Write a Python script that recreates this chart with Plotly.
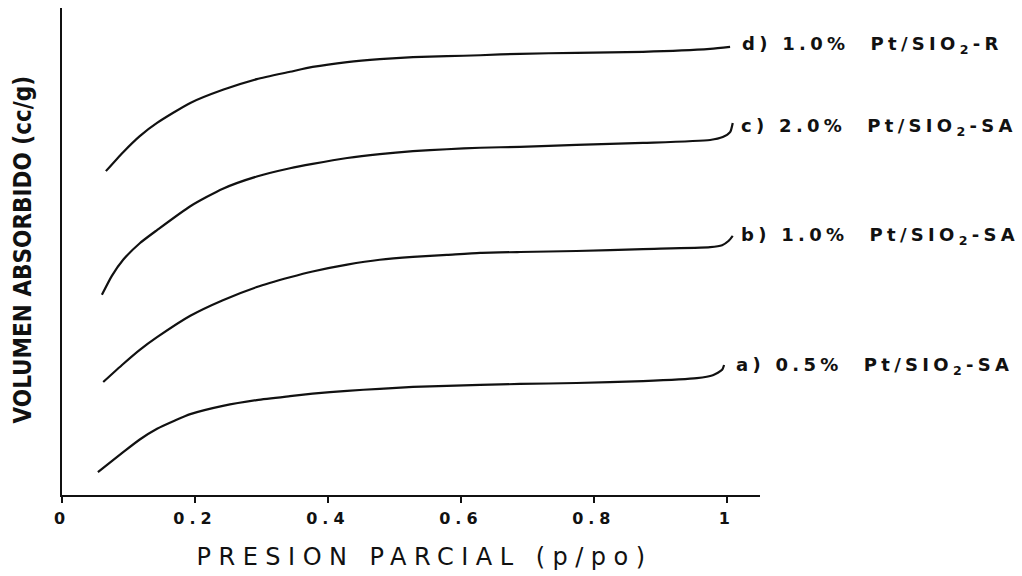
import plotly.graph_objects as go

# Partial pressure (p/po) and adsorbed volume (cc/g, arbitrary scale) per catalyst
x_a = [0.054, 0.092, 0.117, 0.143, 0.170, 0.193, 0.242, 0.293, 0.343, 0.377, 0.429,
       0.478, 0.528, 0.579, 0.629, 0.689, 0.774, 0.874, 0.955, 0.979, 0.993, 0.996]
y_a = [0.47, 0.88, 1.14, 1.36, 1.53, 1.66, 1.83, 1.95, 2.03, 2.08, 2.14,
       2.18, 2.22, 2.24, 2.26, 2.28, 2.30, 2.34, 2.40, 2.46, 2.57, 2.67]

x_b = [0.062, 0.092, 0.117, 0.143, 0.193, 0.242, 0.293, 0.343, 0.377, 0.429, 0.478,
       0.528, 0.579, 0.629, 0.689, 0.774, 0.874, 0.975, 0.993, 1.003, 1.009]
y_b = [2.32, 2.69, 2.98, 3.24, 3.68, 4.00, 4.27, 4.47, 4.59, 4.73, 4.83,
       4.89, 4.93, 4.97, 4.99, 5.01, 5.05, 5.09, 5.13, 5.22, 5.32]

x_c = [0.060, 0.075, 0.092, 0.117, 0.143, 0.193, 0.242, 0.293, 0.343, 0.377, 0.429, 0.478,
       0.528, 0.579, 0.629, 0.689, 0.774, 0.874, 0.975, 0.994, 1.005, 1.009]
y_c = [4.11, 4.50, 4.83, 5.17, 5.44, 5.93, 6.29, 6.54, 6.71, 6.80, 6.92, 7.00,
       7.06, 7.10, 7.13, 7.15, 7.19, 7.23, 7.29, 7.35, 7.45, 7.64]

x_d = [0.066, 0.092, 0.117, 0.143, 0.193, 0.242, 0.293, 0.343, 0.377, 0.429, 0.478,
       0.528, 0.579, 0.629, 0.689, 0.774, 0.874, 0.975, 1.005]
y_d = [6.65, 7.04, 7.37, 7.64, 8.05, 8.32, 8.54, 8.69, 8.79, 8.89, 8.95,
       8.99, 9.01, 9.03, 9.06, 9.08, 9.10, 9.16, 9.20]

series_labels = [
    "d) 1.0%\u00a0 Pt/SIO<sub>2</sub>-R",
    "c) 2.0%\u00a0 Pt/SIO<sub>2</sub>-SA",
    "b) 1.0%\u00a0 Pt/SIO<sub>2</sub>-SA",
    "a) 0.5%\u00a0 Pt/SIO<sub>2</sub>-SA",
]

tick_vals = [0, 0.2, 0.4, 0.6, 0.8, 1.0]
tick_text = ["0", "0.2", "0.4", "0.6", "0.8", "1"]

x_title = "PRESION PARCIAL (p/po)"
y_title = "VOLUMEN ABSORBIDO (cc/g)"

INK = "#111111"

curves = [(x_d, y_d), (x_c, y_c), (x_b, y_b), (x_a, y_a)]
# label offsets (px) from each curve's last point
label_shift = [(10, 2), (6, -4), (6, 0), (10, -1)]

fig = go.Figure()
for (xs, ys), name in zip(curves, series_labels):
    fig.add_trace(go.Scatter(
        x=xs, y=ys, mode="lines", name=name,
        line=dict(color=INK, width=2.2, shape="spline", smoothing=0.6),
        showlegend=False, hoverinfo="skip",
    ))

annotations = []
for (xs, ys), text, (dx, dy) in zip(curves, series_labels, label_shift):
    annotations.append(dict(
        x=xs[-1], y=ys[-1], xref="x", yref="y",
        text=text, showarrow=False, xanchor="left", yanchor="middle",
        xshift=dx, yshift=dy,
        font=dict(family="DejaVu Sans", size=18, color=INK, weight="bold"),
    ))

annotations.append(dict(
    x=0.52, y=0, xref="paper", yref="paper", yshift=-62,
    text=x_title, showarrow=False, xanchor="center", yanchor="middle",
    font=dict(family="DejaVu Sans", size=24, color=INK),
))
annotations.append(dict(
    x=0, y=0.5, xref="paper", yref="paper", xshift=-40, yshift=2,
    text=y_title, showarrow=False, textangle=-90,
    xanchor="center", yanchor="middle",
    font=dict(family="DejaVu Sans Condensed, DejaVu Sans", size=24,
              color=INK, weight="bold"),
))

fig.update_layout(
    width=1022, height=576,
    margin=dict(l=62, r=262, t=8, b=81),
    paper_bgcolor="white", plot_bgcolor="white",
    annotations=annotations,
    xaxis=dict(
        range=[0, 1.05], showgrid=False, zeroline=False,
        showline=True, linecolor=INK, linewidth=2,
        ticks="outside", ticklen=6, tickwidth=2, tickcolor=INK,
        tickvals=tick_vals, ticktext=tick_text,
        tickfont=dict(family="DejaVu Sans", size=16, color=INK, weight="bold"),
        ticklabelstandoff=2,
    ),
    yaxis=dict(
        range=[0, 10], showgrid=False, zeroline=False,
        showline=True, linecolor=INK, linewidth=2,
        showticklabels=False, ticks="",
    ),
)

# widen the lettering of labels, title and tick labels while keeping their anchoring
letter_js = """
var gd = document.getElementById('{plot_id}');
function spread(t, ls, mode) {
  var b0 = t.getBBox();
  t.style.letterSpacing = ls + 'px';
  var b1 = t.getBBox();
  var dx = mode === 'left' ? b0.x - b1.x
         : (b0.x + b0.width / 2) - (b1.x + b1.width / 2);
  var tr = t.getAttribute('transform') || '';
  t.setAttribute('transform', 'translate(' + dx + ',0) ' + tr);
}
var spacing = {0: 4.3, 1: 4.3, 2: 4.3, 3: 4.3, 4: 7.5};
var align = {0: 'left', 1: 'left', 2: 'left', 3: 'left', 4: 'center'};
gd.querySelectorAll('g.annotation').forEach(function (g) {
  var i = +g.getAttribute('data-index');
  if (!(i in spacing)) return;
  var t = g.querySelector('text.annotation-text');
  if (t) spread(t, spacing[i], align[i]);
});
gd.querySelectorAll('g.xtick text').forEach(function (t) {
  spread(t, 5, 'center');
});
"""

fig.write_html("out.html", post_script=letter_js)
